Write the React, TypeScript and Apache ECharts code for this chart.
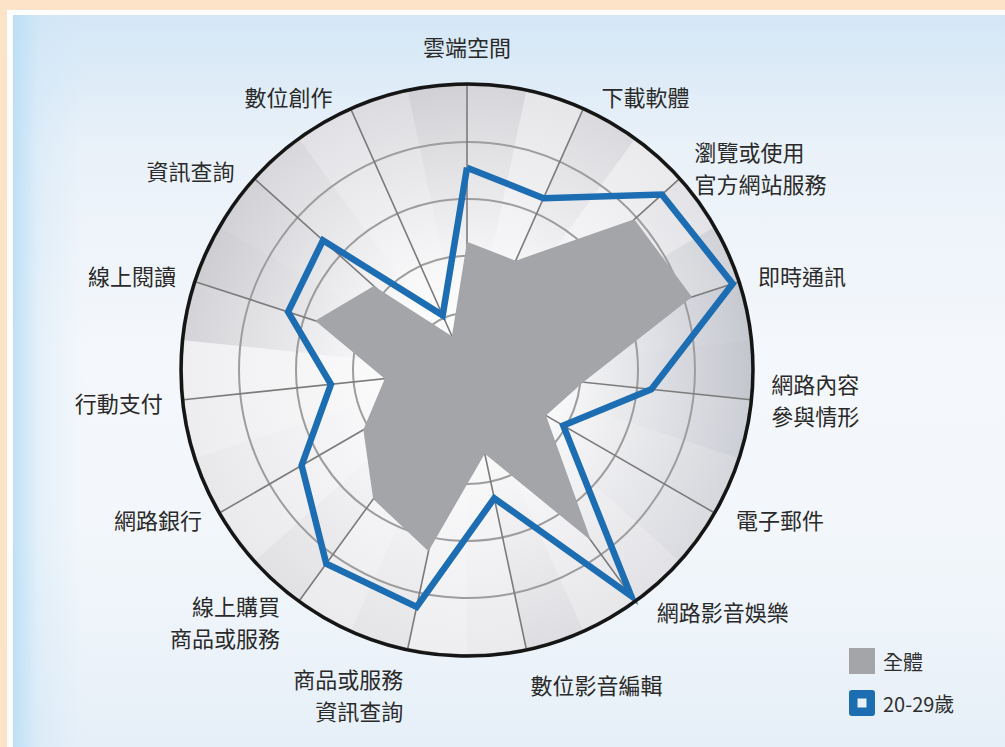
import React, { useEffect, useRef } from "react";
import * as echarts from "echarts";

// Indicators, clockwise from the top
const categories: string[] = [
  "雲端空間",
  "下載軟體",
  "瀏覽或使用\n官方網站服務",
  "即時通訊",
  "網路內容\n參與情形",
  "電子郵件",
  "網路影音娛樂",
  "數位影音編輯",
  "商品或服務\n資訊查詢",
  "線上購買\n商品或服務",
  "網路銀行",
  "行動支付",
  "線上閱讀",
  "資訊查詢",
  "數位創作",
];

const seriesNames: string[] = ["全體", "20-29歲"];
const allValues: number[] = [45, 42, 79, 83, 41, 32, 74, 30, 65, 56, 42, 29, 56, 44, 13];
const age2029Values: number[] = [71, 66, 92, 98, 65, 39, 98, 46, 85, 84, 67, 48, 66, 68, 21];
const axisMax = 100;

// layout: small label nudges [dx, dy] in px, same order as categories
const labelNudge: number[][] = [
  [0, -1], [10, 6], [0, 2], [0, 0], [0, -3], [4, -4], [10, -7], [-3, 15],
  [0, 25], [-7, 3], [0, -4], [0, 0], [0, 0], [-5, 5], [-10, 6],
];

// outer shade of the background wedges (30 half-wedges, clockwise from top)
const wedgeShades: string[] = [
  "#d6d6da", "#e6e6e9", "#dadade", "#eaeaed", "#e3e3e7", "#d2d3d8",
  "#c7c9d1", "#c4c6ce", "#cdcfd6", "#d6d7dc", "#dadbe0", "#e2e2e6",
  "#e7e7ea", "#dedee2", "#eaeaed", "#eeeef0", "#e5e5e8", "#ebebee",
  "#e1e1e4", "#eaeaed", "#e8e8eb", "#ededef", "#efeff1", "#d4d4d8",
  "#cdcdd2", "#d1d1d6", "#d8d8dc", "#e1e1e5", "#dcdce0", "#d1d1d5",
];

const CX = 467;
const CY = 370;
const R = 285;

// ECharts lays radar indicators counter-clockwise; reorder to read clockwise
const order = [0, ...Array.from({ length: categories.length - 1 }, (_, k) => categories.length - 1 - k)];
const reorder = <T,>(arr: T[]): T[] => order.map((i) => arr[i]);

const FONT = "'Noto Sans CJK TC', 'Noto Sans CJK SC', sans-serif";
const LABEL_SIZE = 22;
const LABEL_LH = 32;
const LABEL_COLOR = "#2a2a2a";

export default function App() {
  const ref = useRef<HTMLDivElement>(null);

  useEffect(() => {
    if (!ref.current) return;
    const chart = echarts.init(ref.current, undefined, { renderer: "svg" });

    const n = wedgeShades.length;
    const wedges = wedgeShades.map((c, i) => {
      const a0 = (i * 360) / n - 90;
      const a1 = ((i + 1) * 360) / n - 90;
      return {
        type: "sector",
        z: -10,
        silent: true,
        shape: {
          cx: CX,
          cy: CY,
          r: R,
          r0: 0,
          startAngle: (a0 * Math.PI) / 180,
          endAngle: (a1 * Math.PI) / 180 + 0.002,
          clockwise: true,
        },
        style: {
          fill: {
            type: "radial",
            x: CX,
            y: CY,
            r: R,
            global: true,
            colorStops: [
              { offset: 0, color: "#ffffff" },
              { offset: 0.3, color: "#fafafb" },
              { offset: 1, color: c },
            ],
          },
        },
      };
    });

    // rich styles: horizontal nudge by padding, vertical nudge by a spacer line
    const rich: Record<string, any> = {};
    categories.forEach((_, i) => {
      const [dx, dy] = labelNudge[i];
      rich[`t${i}`] = {
        fontSize: LABEL_SIZE,
        lineHeight: LABEL_LH,
        color: LABEL_COLOR,
        fontFamily: FONT,
        padding: [0, dx < 0 ? -dx : 0, 0, dx > 0 ? dx : 0],
      };
      rich[`s${i}`] = {
        fontSize: 1,
        lineHeight: Math.max(1, Math.abs(dy) * 2),
        color: "rgba(0,0,0,0)",
      };
    });

    const option: any = {
      animation: false,
      textStyle: { fontFamily: FONT },
      graphic: [
        ...wedges,
        {
          type: "circle",
          z: 100,
          silent: true,
          shape: { cx: CX, cy: CY, r: R + 1 },
          style: { fill: "none", stroke: "#151515", lineWidth: 3.5 },
        },
      ],
      legend: {
        orient: "vertical",
        left: 849,
        top: 648,
        itemWidth: 26,
        itemHeight: 26,
        itemGap: 16,
        padding: 0,
        selectedMode: false,
        textStyle: {
          fontFamily: FONT,
          fontSize: 20,
          color: "#2e2e2e",
          padding: [0, 0, 0, 3],
        },
        data: [
          { name: seriesNames[0], icon: "rect", itemStyle: { color: "#a4a5a8", borderWidth: 0 } },
          {
            name: seriesNames[1],
            icon: "path://M3,0H23Q26,0 26,3V23Q26,26 23,26H3Q0,26 0,23V3Q0,0 3,0Z M8.5,8.5V17.5H17.5V8.5Z",
            itemStyle: { color: "#1d6db3", borderWidth: 0 },
          },
        ],
      },
      radar: {
        center: [CX, CY],
        radius: R,
        startAngle: 90,
        splitNumber: 5,
        shape: "circle",
        nameGap: 21,
        indicator: reorder(categories).map((name) => ({ name, max: axisMax, min: 0 })),
        axisName: {
          color: LABEL_COLOR,
          fontSize: LABEL_SIZE,
          lineHeight: LABEL_LH,
          fontFamily: FONT,
          rich,
          formatter: (name: string) => {
            const i = categories.indexOf(name);
            if (i < 0) return name;
            const dy = labelNudge[i][1];
            const lines = name.split("\n").map((l) => `{t${i}|${l}}`);
            if (dy > 0) lines.unshift(`{s${i}| }`);
            if (dy < 0) lines.push(`{s${i}| }`);
            return lines.join("\n");
          },
        },
        splitLine: { lineStyle: { color: "#9d9d9d", width: 2 } },
        splitArea: { show: false },
        axisLine: { lineStyle: { color: "#7b7b7b", width: 1.6 } },
        axisTick: { show: false },
        axisLabel: { show: false },
      },
      series: [
        {
          type: "radar",
          name: seriesNames[0],
          symbol: "none",
          silent: true,
          data: [
            {
              name: seriesNames[0],
              value: reorder(allValues),
              itemStyle: { color: "#a4a5a8" },
              lineStyle: { width: 0, color: "#a4a5a8" },
              areaStyle: { color: "#a4a5a8", opacity: 1 },
            },
          ],
        },
        {
          type: "radar",
          name: seriesNames[1],
          symbol: "none",
          silent: true,
          data: [
            {
              name: seriesNames[1],
              value: reorder(age2029Values),
              itemStyle: { color: "#1d6db3" },
              lineStyle: { width: 6.5, color: "#1d6db3", join: "miter", miterLimit: 10 },
            },
          ],
        },
      ],
    };

    chart.setOption(option);
    return () => chart.dispose();
  }, []);

  return (
    <div
      style={{
        position: "fixed",
        left: 0,
        top: 0,
        width: 1005,
        height: 747,
        background: "#fde3c8",
        overflow: "hidden",
      }}
    >
      <div
        style={{
          position: "absolute",
          left: 7,
          top: 10,
          right: 0,
          bottom: 0,
          background: "#ffffff",
        }}
      >
        <div
          style={{
            position: "absolute",
            left: 6,
            top: 5,
            right: 0,
            bottom: 0,
            background:
              "linear-gradient(to right, rgba(185,222,246,0.9) 0px, rgba(200,228,247,0.35) 25px, rgba(220,235,248,0) 70px), linear-gradient(to bottom, #d4e7f6 0%, #e9f1f9 18%, #f4f7fb 45%, #f3f7fb 70%, #e6eff8 100%)",
          }}
        />
      </div>
      <div ref={ref} style={{ position: "absolute", left: 0, top: 0, width: 1005, height: 747 }} />
    </div>
  );
}
